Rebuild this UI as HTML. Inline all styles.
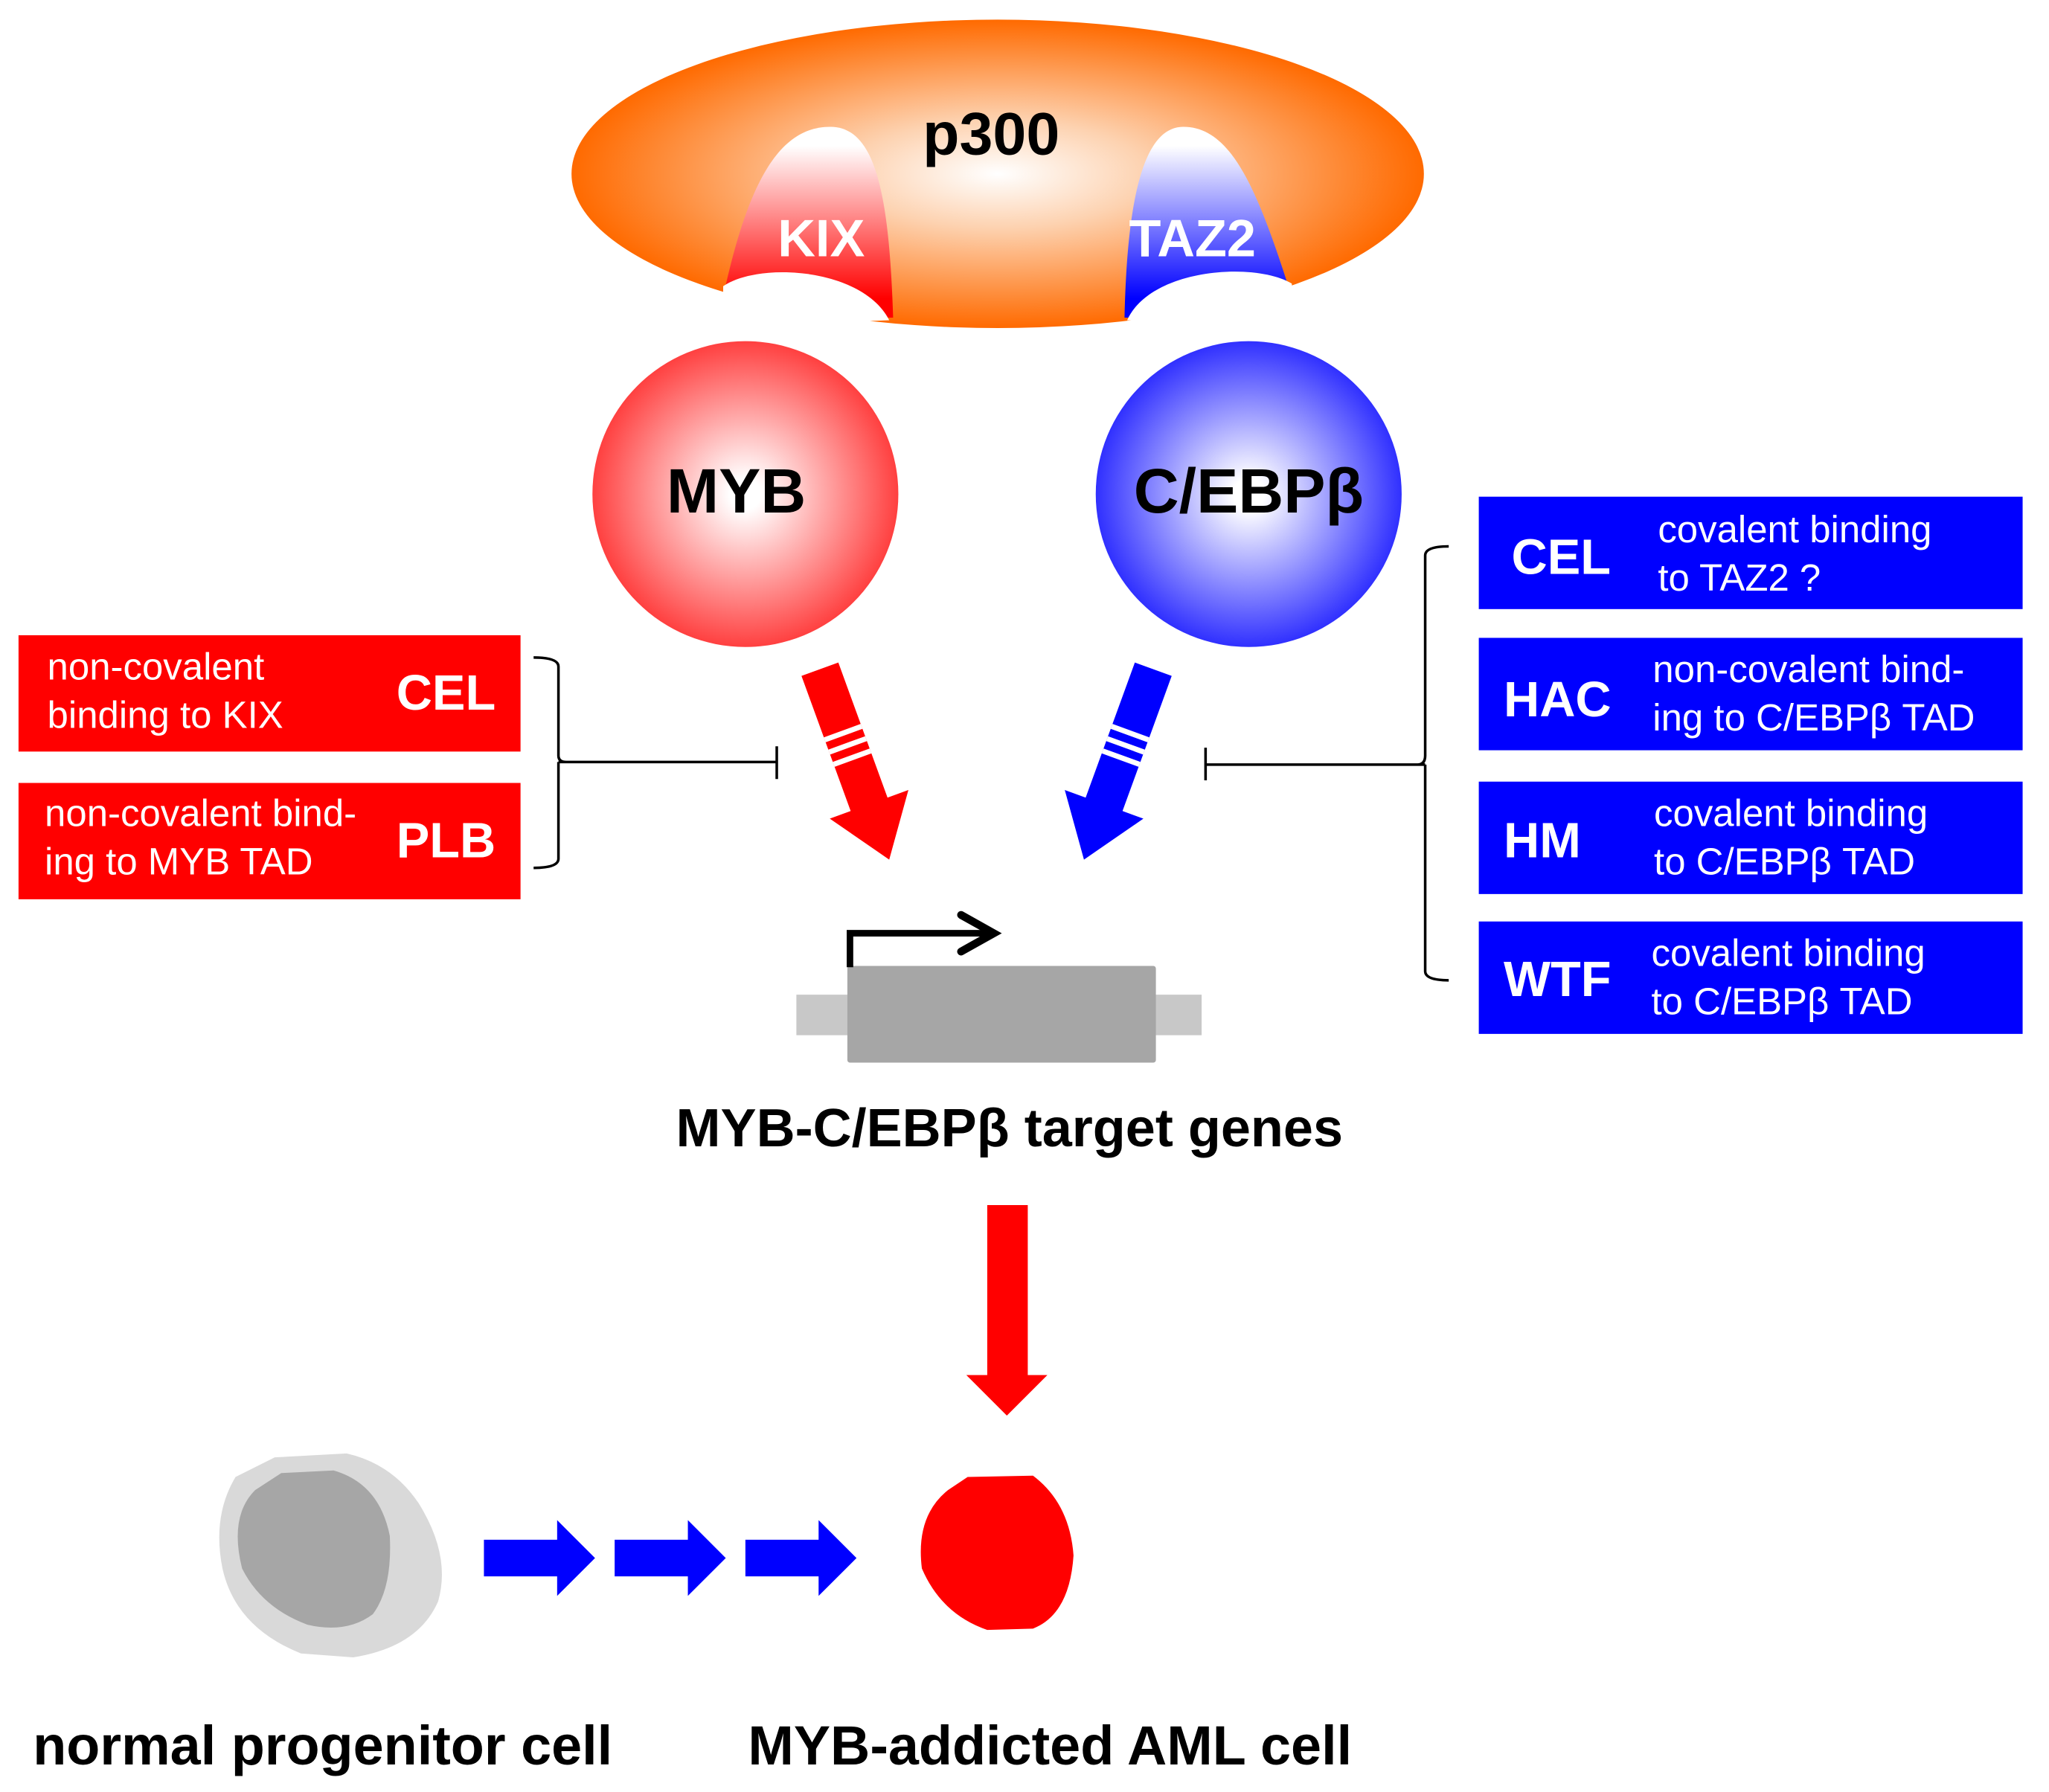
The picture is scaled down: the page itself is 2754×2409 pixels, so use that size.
<!DOCTYPE html>
<html><head><meta charset="utf-8"><style>html,body{margin:0;padding:0;background:#fff}svg{display:block}</style></head><body>
<svg width="2754" height="2409" viewBox="0 0 1567 1371" xmlns="http://www.w3.org/2000/svg" font-family="Liberation Sans, Arial, sans-serif">
<defs>
<radialGradient id="og" cx="0.5" cy="0.5" r="0.5"><stop offset="0" stop-color="#fff"/><stop offset="0.35" stop-color="#fdd2b0"/><stop offset="1" stop-color="#ff6a00"/></radialGradient>
<radialGradient id="rg" cx="0.5" cy="0.5" r="0.5"><stop offset="0.1" stop-color="#fff"/><stop offset="1" stop-color="#ff4040"/></radialGradient>
<radialGradient id="bg" cx="0.5" cy="0.5" r="0.5"><stop offset="0.1" stop-color="#fff"/><stop offset="1" stop-color="#3030ff"/></radialGradient>
<linearGradient id="kg" x1="0" y1="0" x2="0" y2="1"><stop offset="0.1" stop-color="#fff"/><stop offset="0.9" stop-color="#ff0000"/></linearGradient>
<linearGradient id="tg" x1="0" y1="0" x2="0" y2="1"><stop offset="0.1" stop-color="#fff"/><stop offset="0.9" stop-color="#0000ff"/></linearGradient>
</defs>
<ellipse cx="763" cy="133" rx="326" ry="118" fill="url(#og)"/>
<path d="M555,218 C575,130 600,97 635,97 C670,97 680,150 683,243 L555,243 Z" fill="url(#kg)"/>
<path d="M860,243 C862,150 875,97 905,97 C940,97 960,140 985,218 L985,243 Z" fill="url(#tg)"/>
<path d="M553,219 C580,200 660,205 680,245 L553,250 Z" fill="#fff"/>
<path d="M862,245 C880,205 960,200 988,217 L988,250 Z" fill="#fff"/>
<text x="758" y="118" font-size="46" font-weight="bold" text-anchor="middle">p300</text>
<text x="628" y="196" font-size="40" font-weight="bold" fill="#fff" text-anchor="middle">KIX</text>
<text x="912" y="196" font-size="40" font-weight="bold" fill="#fff" text-anchor="middle">TAZ2</text>
<circle cx="570" cy="378" r="117" fill="url(#rg)"/>
<circle cx="955" cy="378" r="117" fill="url(#bg)"/>
<text x="563" y="392" font-size="48" font-weight="bold" text-anchor="middle">MYB</text>
<text x="955" y="392" font-size="48" font-weight="bold" text-anchor="middle">C/EBPβ</text>
<rect x="14" y="486" width="384" height="89" fill="#ff0000"/>
<rect x="14" y="599" width="384" height="89" fill="#ff0000"/>
<g fill="#fff" font-size="29"><text x="36" y="520">non-covalent</text><text x="36" y="557">binding to KIX</text>
<text x="34" y="632">non-covalent bind-</text><text x="34" y="669">ing to MYB TAD</text></g>
<g fill="#fff" font-size="38" font-weight="bold"><text x="303" y="543">CEL</text><text x="303" y="656">PLB</text></g>
<path d="M408,503 Q427,503 427,510 L427,578 Q427,583 433,583 M427,583 L427,657 Q427,664 408,664 M427,583 L594,583 M594,571 L594,596" fill="none" stroke="#000" stroke-width="2"/>
<path d="M1108,418 Q1090,418 1090,425 L1090,578 Q1090,585 1084,585 M1090,585 L1090,743 Q1090,750 1108,750 M1090,585 L922,585 M922,572 L922,597" fill="none" stroke="#000" stroke-width="2"/>
<g fill="#0000ff"><rect x="1131" y="380" width="416" height="86"/><rect x="1131" y="488" width="416" height="86"/><rect x="1131" y="598" width="416" height="86"/><rect x="1131" y="705" width="416" height="86"/></g>
<g fill="#fff" font-size="38" font-weight="bold"><text x="1156" y="439">CEL</text><text x="1150" y="548">HAC</text><text x="1150" y="656">HM</text><text x="1150" y="762">WTF</text></g>
<g fill="#fff" font-size="29"><text x="1268" y="415">covalent binding</text><text x="1268" y="452">to TAZ2 ?</text>
<text x="1264" y="522">non-covalent bind-</text><text x="1264" y="559">ing to C/EBPβ TAD</text>
<text x="1265" y="632">covalent binding</text><text x="1265" y="669">to C/EBPβ TAD</text>
<text x="1263" y="739">covalent binding</text><text x="1263" y="776">to C/EBPβ TAD</text></g>
<g transform="translate(627,512) rotate(-20)">
<path d="M-15,0 L15,0 L15,110 L32,110 L0,155 L-32,110 L-15,110 Z" fill="#ff0000"/>
<g stroke="#fff" stroke-width="4"><line x1="-15" y1="52" x2="15" y2="52"/><line x1="-15" y1="62" x2="15" y2="62"/><line x1="-15" y1="72" x2="15" y2="72"/></g></g>
<g transform="translate(882,512) rotate(20)">
<path d="M-15,0 L15,0 L15,110 L32,110 L0,155 L-32,110 L-15,110 Z" fill="#0000ff"/>
<g stroke="#fff" stroke-width="4"><line x1="-15" y1="52" x2="15" y2="52"/><line x1="-15" y1="62" x2="15" y2="62"/><line x1="-15" y1="72" x2="15" y2="72"/></g></g>
<rect x="609" y="761" width="310" height="31" fill="#c8c8c8"/>
<rect x="648" y="739" width="236" height="74" rx="2" fill="#a6a6a6"/>
<path d="M650,740 L650,714 L758,714" fill="none" stroke="#000" stroke-width="5"/>
<path d="M735,700 L760,714 L735,728" fill="none" stroke="#000" stroke-width="6" stroke-linecap="round"/>
<text x="772" y="877" font-size="41" font-weight="bold" text-anchor="middle">MYB-C/EBPβ target genes</text>
<path d="M755,922 L786,922 L786,1052 L801,1052 L770,1083 L739,1052 L755,1052 Z" fill="#ff0000"/>
<path d="M210,1115 L265,1112 Q300,1120 320,1150 Q345,1190 335,1225 Q320,1260 270,1268 L230,1265 Q180,1245 170,1200 Q162,1160 180,1130 Z" fill="#d9d9d9"/>
<path d="M215,1127 L255,1125 Q290,1135 298,1175 Q300,1215 285,1235 Q265,1250 235,1243 Q200,1230 185,1200 Q175,1160 195,1140 Z" fill="#a6a6a6"/>
<g fill="#0000ff"><path d="M370,1178 L426,1178 L426,1163 L455,1192 L426,1221 L426,1206 L370,1206 Z"/><path d="M470,1178 L526,1178 L526,1163 L555,1192 L526,1221 L526,1206 L470,1206 Z"/><path d="M570,1178 L626,1178 L626,1163 L655,1192 L626,1221 L626,1206 L570,1206 Z"/></g>
<path d="M740,1130 L790,1129 Q818,1150 821,1190 Q818,1235 790,1246 L755,1247 Q720,1235 705,1200 Q700,1160 725,1140 Z" fill="#ff0000"/>
<g font-size="42" font-weight="bold"><text x="25" y="1350">normal progenitor cell</text><text x="572" y="1350">MYB-addicted AML cell</text></g>
</svg>
</body></html>
